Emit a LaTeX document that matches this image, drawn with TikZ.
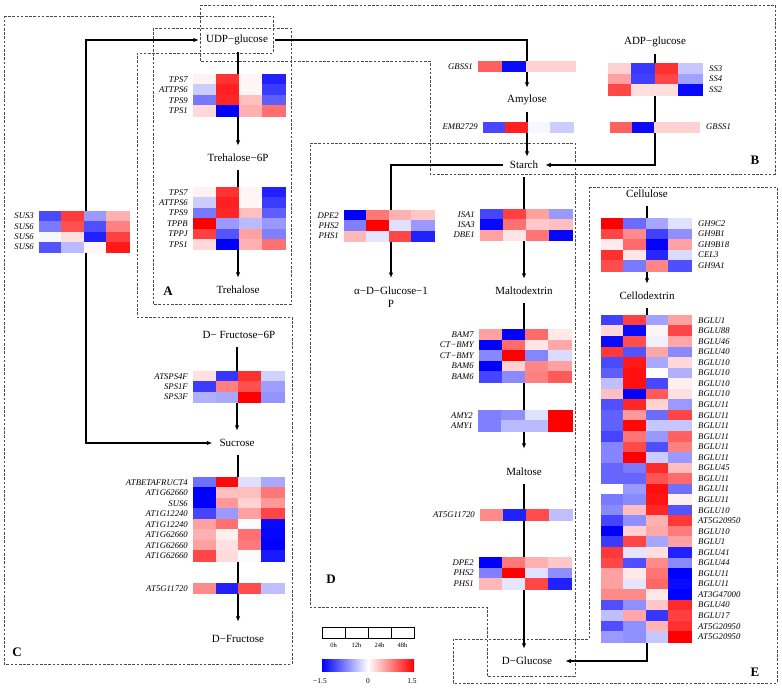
\documentclass[tikz,border=0pt]{standalone}
\usepackage{fontspec}
\setmainfont{Liberation Serif}
\usetikzlibrary{arrows.meta,calc}
\tikzset{
 met/.style={font=\fontsize{11}{13}\selectfont, inner xsep=7pt, inner ysep=0pt, minimum height=24pt},
 gene/.style={font=\fontsize{8.7}{9}\selectfont\itshape, inner sep=0pt},
 arr/.style={line width=1.5pt, -{Latex[length=5.5pt,width=4.5pt]}},
 ln/.style={line width=1.5pt},
 dbox/.style={draw=black!70, line width=0.75pt, dash pattern=on 2.6pt off 1.6pt},
 plabel/.style={font=\fontsize{13}{15}\selectfont\bfseries, inner sep=0pt},
 leg/.style={font=\fontsize{6.5}{7}\selectfont, inner sep=0pt},
 legb/.style={font=\fontsize{7.5}{8}\selectfont, inner sep=0pt},
}
% #1 name, #2 x, #3 y, #4 cell w, #5 cell h, #6 label side l/r, #7 labels, #8 rows
\newcommand\hmap[8]{%
 \foreach \hmrowv [count=\hmr from 0] in {#8} {%
  \foreach \hmv [count=\hmc from 0] in \hmrowv {%
   \pgfmathtruncatemacro\hmpv{abs(\hmv)}%
   \ifnum\hmv<0 \colorlet{hcol}{blue!\hmpv!white}\else\colorlet{hcol}{red!\hmpv!white}\fi
   \filldraw[fill=hcol,draw=hcol,line width=0.2pt] ({#2+\hmc*#4},{#3+\hmr*#5}) rectangle ++(#4,#5);
  }%
 }%
 \foreach \hml [count=\hmr from 0] in {#7} {%
  \if l#6\relax
   \node[gene,anchor=east] (#1-\hmr) at ({#2-5},{#3+(\hmr+0.5)*#5}) {\hml};
  \else
   \node[gene,anchor=west] (#1-\hmr) at ({#2+4*#4+7},{#3+(\hmr+0.5)*#5}) {\hml};
  \fi
 }%
}
\begin{document}
\begin{tikzpicture}[x=1pt,y=-1pt]
\useasboundingbox (0,0) rectangle (782,690);

% dashed panel boxes
\draw[dbox] (153,28) rectangle (291,304);
\draw[dbox] (200,5) -- (775,5) -- (775,174) -- (430,174) -- (430,61) -- (200,61) -- cycle;
\draw[dbox] (4,16) -- (273,16) -- (273,53) -- (137,53) -- (137,317) -- (292,317) -- (292,664) -- (4,664) -- cycle;
\draw[dbox] (310,143) -- (575,143) -- (575,676) -- (487,676) -- (487,607) -- (310,607) -- cycle;
\draw[dbox] (589,187) -- (777,187) -- (777,683) -- (453,683) -- (453,639) -- (589,639) -- cycle;

% panel letters
\node[plabel] (pA) at (168,291) {A};
\node[plabel] (pB) at (755,160) {B};
\node[plabel] (pC) at (17,652) {C};
\node[plabel] (pD) at (331,579) {D};
\node[plabel] (pE) at (755,672) {E};

% metabolites
\node[met] (udp) at (237,40) {UDP−glucose};
\node[met] (t6p) at (238,158) {Trehalose−6P};
\node[met] (treh) at (238,290) {Trehalose};
\node[met] (amyl) at (527,100) {Amylose};
\node[met] (adp) at (655,42) {ADP−glucose};
\node[met] (starch) at (524,165) {Starch};
\node[met, align=center, minimum height=0pt, anchor=north] (aglc) at (391,287) {α−D−Glucose−1\\P};
\node[met] (maltod) at (524,291) {Maltodextrin};
\node[met] (maltose) at (524,472) {Maltose};
\node[met] (dglc) at (527,661) {D−Glucose};
\node[met] (f6p) at (239,335) {D− Fructose−6P};
\node[met] (sucrose) at (237,443) {Sucrose};
\node[met] (dfru) at (238,639) {D−Fructose};
\node[met] (cellulose) at (647,194) {Cellulose};
\node[met] (cellod) at (647,296) {Cellodextrin};

\coordinate (susc) at (86,232);
\coordinate (bgluend) at (647,642);

% connectors
\draw[arr] (udp.south -| t6p) -- (t6p.north);
\draw[arr] (t6p.south) -- (treh.north);
\draw[arr] (udp.east) -| (amyl.north);
\draw[arr, shorten >=-4pt] (amyl.south) -- (amyl.south |- starch.north);
\draw[arr] (adp.south) |- (starch.east);
\draw[arr, shorten >=9pt] (starch.west) -| (aglc.north);
\draw[arr] (starch.south) -- (maltod.north);
\draw[arr, shorten >=11pt] (maltod.south) -- (maltose.north);
\draw[arr] (maltose.south) -- (maltose.south |- dglc.north);
\draw[arr, shorten >=6pt] (bgluend) |- (dglc.east);
\draw[arr] (susc) |- (udp.west);
\draw[arr] (susc) |- (sucrose.west);
\draw[arr] (f6p.south -| sucrose) -- (sucrose.north);
\draw[arr, shorten >=5pt] (sucrose.south -| dfru) -- (dfru.north);
\draw[arr] (cellulose.south) -- (cellod.north);
\draw[ln] (cellod.south) -- (bgluend);

% heatmaps
\hmap{tpsA}{193}{74}{23}{10.5}{l}{TPS7,ATTPS6,TPS9,TPS1}
 {{5,80,4,-87},{-20,87,3,-77},{-53,85,25,-63},{15,-100,31,56}}
\hmap{tpsB}{193}{187}{23}{10.4}{l}{TPS7,ATTPS6,TPS9,TPPB,TPPJ,TPS1}
 {{5,80,4,-87},{-20,87,3,-77},{-53,85,25,-63},{100,-40,-27,-40},{75,-67,37,-50},{15,-100,31,56}}
\hmap{sus}{39}{211}{22.5}{10.3}{l}{SUS3,SUS6,SUS6,SUS6}
 {{-71,77,-40,31},{-52,69,-69,50},{-3,13,-87,75},{-67,-27,4,90}}
\hmap{gbssL}{478}{61}{24.25}{10.5}{l}{GBSS1}{{62,-96,18,18}}
\hmap{emb}{483}{122}{22.5}{10}{l}{EMB2729}{{-72,87,-3,-20}}
\hmap{ss}{608}{63}{23.5}{10.7}{r}{SS3,SS4,SS2}
 {{18,-78,81,-22},{37,-75,73,-37},{72,13,13,-97}}
\hmap{gbssR}{610}{122}{22.25}{10}{r}{GBSS1}{{62,-96,18,18}}
\hmap{dpeA}{344}{210}{22.5}{10.4}{l}{DPE2,PHS2,PHS1}
 {{-100,53,31,22},{-50,100,-12,-40},{28,-10,72,-87}}
\hmap{isa}{480}{209}{23}{10.4}{l}{ISA1,ISA3,DBE1}
 {{-73,75,37,-40},{-97,56,21,25},{37,10,54,-98}}
\hmap{bam}{479}{329}{23}{10.6}{l}{BAM7,CT−BMY,CT−BMY,BAM6,BAM6}
 {{37,-100,58,9},{-100,58,10,34},{-47,100,-48,-14},{-100,18,47,37},{-73,-46,50,65}}
\hmap{amy}{478}{410}{23.5}{10.5}{l}{AMY2,AMY1}
 {{-50,-44,-12,100},{-50,-27,-27,100}}
\hmap{atD}{480}{509}{23}{11}{l}{AT5G11720}{{46,-87,70,-25}}
\hmap{dpeB}{479}{557}{23}{10.6}{l}{DPE2,PHS2,PHS1}
 {{-100,53,31,22},{-50,100,-12,-44},{28,-10,72,-87}}
\hmap{sps}{193}{371}{22.75}{10.4}{l}{ATSPS4F,SPS1F,SPS3F}
 {{12,-79,81,-18},{-77,50,69,-38},{-31,-34,100,-42}}
\hmap{inv}{193}{477}{22.75}{10.5}{l}{ATBETAFRUCT4,AT1G62660,SUS6,AT1G12240,AT1G12240,AT1G62660,AT1G62660,AT1G62660}
 {{-56,97,-13,-34},{-100,25,25,53},{-100,40,18,40},{-73,-40,37,73},{37,56,-2,-97},{31,6,56,-98},{37,12,52,-100},{72,14,2,-90}}
\hmap{atC}{193}{583}{22.75}{10.5}{l}{AT5G11720}{{46,-87,70,-25}}
\hmap{gh}{601}{218}{22.5}{10.6}{r}{GH9C2,GH9B1,GH9B18,CEL3,GH9A1}
 {{100,-58,-35,-12},{73,46,-75,-44},{8,58,-100,37},{81,10,-85,-14},{70,-52,48,-69}}
\hmap{bglu}{601}{315}{22.5}{10.55}{r}{BGLU1,BGLU88,BGLU46,BGLU40,BGLU10,BGLU10,BGLU10,BGLU10,BGLU11,BGLU11,BGLU11,BGLU11,BGLU11,BGLU11,BGLU45,BGLU11,BGLU11,BGLU11,BGLU10,AT5G20950,BGLU10,BGLU1,BGLU41,BGLU44,BGLU11,BGLU11,AT3G47000,BGLU40,BGLU17,AT5G20950,AT5G20950}
 {{-75,75,-37,37},{15,-96,4,73},{-96,69,-6,35},{78,-67,35,-46},{-71,90,-34,15},{-63,94,0,-31},{-25,94,-72,6},{25,-100,65,12},{-69,85,18,-40},{-62,40,-58,73},{-62,97,-22,-22},{-73,54,-40,62},{-48,71,-69,50},{-48,100,-20,-40},{-60,-52,83,25},{-60,-60,67,58},{0,-40,94,-56},{-52,-46,92,6},{-46,26,85,-67},{-73,-44,31,78},{-100,18,34,52},{-77,73,-35,37},{78,-10,13,-87},{72,-69,46,-46},{37,9,54,-100},{37,-10,60,-96},{46,46,9,-100},{-69,-44,22,84},{-25,35,-79,75},{-69,-44,29,81},{-40,-44,-22,100}}

% legend
\draw[line width=0.6pt] (322,627) rectangle (414,638);
\draw[line width=0.6pt] (345,627) -- (345,638) (368,627) -- (368,638) (391,627) -- (391,638);
\node[leg] (l0) at (333.5,645) {0h};
\node[leg] (l12) at (356.5,645) {12h};
\node[leg] (l24) at (379.5,645) {24h};
\node[leg] (l48) at (402.5,645) {48h};
\shade[left color=blue, right color=red, middle color=white] (322,659) rectangle (414,671);
\node[legb] (lmin) at (320,681) {−1.5};
\node[legb] (lzero) at (368,681) {0};
\node[legb] (lmax) at (412,681) {1.5};
\end{tikzpicture}
\end{document}
